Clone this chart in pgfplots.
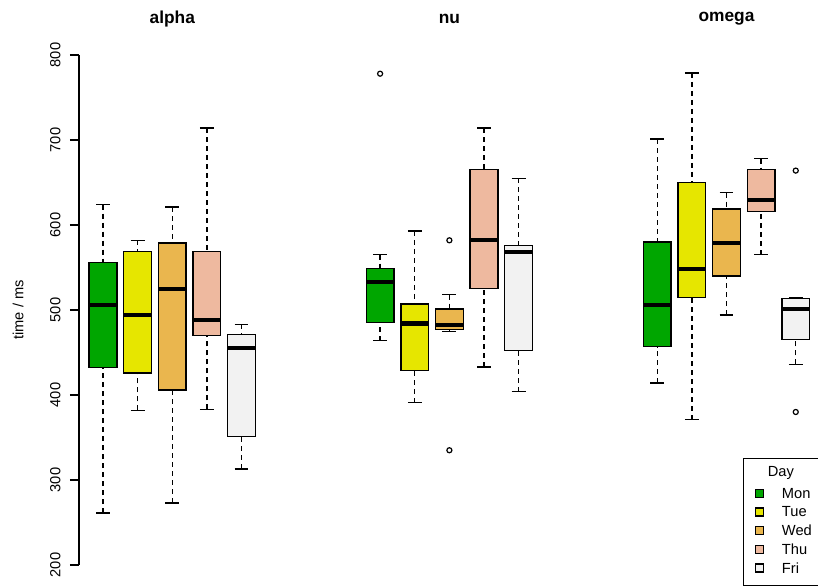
\documentclass[border=0pt]{standalone}
\usepackage{fontspec}
\setmainfont{Liberation Sans}
\usepackage{graphicx}
\usepackage{pgfplots}
\pgfplotsset{compat=1.18}
\definecolor{cMon}{HTML}{00A600}
\definecolor{cTue}{HTML}{E6E600}
\definecolor{cWed}{HTML}{EAB64E}
\definecolor{cThu}{HTML}{EEB99F}
\definecolor{cFri}{HTML}{F2F2F2}
% #1 position, #2 colour, #3 lower whisker, #4 lower quartile, #5 median, #6 upper quartile, #7 upper whisker
\newcommand{\rbox}[7]{%
  \pgfmathsetmacro{\xl}{#1-0.4}\pgfmathsetmacro{\xr}{#1+0.4}%
  \pgfmathsetmacro{\cl}{#1-0.2}\pgfmathsetmacro{\cr}{#1+0.2}%
  \addplot[black, line width=1pt, dash pattern=on 3.75pt off 3pt] coordinates {(#1,#3) (#1,#4)};
  \addplot[black, line width=1pt, dash pattern=on 3.75pt off 3pt] coordinates {(#1,#7) (#1,#6)};
  \addplot[black, line width=1pt] coordinates {(\cl,#3) (\cr,#3)};
  \addplot[black, line width=1pt] coordinates {(\cl,#7) (\cr,#7)};
  \addplot[draw=black, fill=#2, line width=1pt] coordinates {(\xl,#4) (\xr,#4) (\xr,#6) (\xl,#6)} -- cycle;
  \addplot[black, line width=3.2pt] coordinates {(\xl,#5) (\xr,#5)};
}
\begin{document}
\begin{tikzpicture}
\begin{axis}[
  at={(0,0)}, anchor=south west,
  scale only axis, width=555.75pt, height=413.1pt,
  xmin=0.307, xmax=21.70, ymin=176, ymax=824,
  clip=false,
  hide x axis,
  axis y line*=left,
  y axis line style={draw=none},
  ytick={200,300,400,500,600,700,800},
  tick align=outside, major tick length=6.75pt,
  every tick/.style={black, line width=0.8pt},
  yticklabel={\rotatebox{90}{\pgfmathprintnumber{\tick}}},
  yticklabel style={anchor=east, xshift=-3.5pt},
  /pgf/number format/assume math mode=true,
  ticklabel style={font=\fontsize{11}{13}\selectfont},
  ylabel={time / ms},
  ylabel style={at={(axis description cs:-0.0823,0.5)}, anchor=center, font=\fontsize{11}{13}\selectfont},
]
% alpha
\rbox{1}{cMon}{261}{432}{506}{556}{624}
\rbox{2}{cTue}{382}{426}{494}{569}{582}
\rbox{3}{cWed}{273}{406}{525}{579}{621}
\rbox{4}{cThu}{383}{470}{488}{569}{714}
\rbox{5}{cFri}{313}{351}{455}{471}{483}
% nu
\rbox{9}{cMon}{464}{485}{533}{549}{565}
\rbox{10}{cTue}{391}{429}{484}{507}{593}
\rbox{11}{cWed}{475}{477}{482}{501}{518}
\rbox{12}{cThu}{433}{525}{582}{665}{714}
\rbox{13}{cFri}{404}{452}{568}{576}{655}
% omega
\rbox{17}{cMon}{414}{457}{506}{580}{701}
\rbox{18}{cTue}{371}{515}{548}{650}{779}
\rbox{19}{cWed}{494}{540}{579}{619}{638}
\rbox{20}{cThu}{565}{616}{629}{665}{678}
\rbox{21}{cFri}{436}{465}{501}{513.5}{514}
% outliers
\addplot[only marks, mark=o, mark size=1.9pt, mark options={line width=0.9pt, black}] coordinates {(9,778) (11,582) (11,335) (21,664) (21,380)};
% y axis line (R style, only over tick range)
\draw[line width=0.8pt] (axis cs:0.307,200) -- (axis cs:0.307,800);
% panel titles
\node[font=\bfseries\fontsize{13}{15}\selectfont] at (axis cs:3,842.4) {alpha};
\node[font=\bfseries\fontsize{13}{15}\selectfont] at (axis cs:11,842.4) {nu};
\node[font=\bfseries\fontsize{13}{15}\selectfont] at (axis cs:19,842.4) {omega};
\end{axis}
% legend
\draw[line width=0.8pt, fill=white] (498.2pt,0pt) rectangle (560pt,95.3pt);
\node[font=\fontsize{11}{13}\selectfont] at (526.35pt,84.1pt) {Day};
\foreach \c/\n/\y in {cMon/Mon/68.6, cTue/Tue/55.05, cWed/Wed/41.0, cThu/Thu/27.1, cFri/Fri/13.05}{
  \draw[line width=0.8pt, fill=\c] (510.5pt-3pt,\y pt-3pt) rectangle (510.5pt+3pt,\y pt+3pt);
  \node[font=\fontsize{11}{13}\selectfont, anchor=west, inner sep=0pt] at (527pt,\y pt) {\n};
}
\pgfresetboundingbox
\useasboundingbox (-59.25pt,-1.2pt) rectangle (554.25pt,439.05pt);
\end{tikzpicture}
\end{document}
